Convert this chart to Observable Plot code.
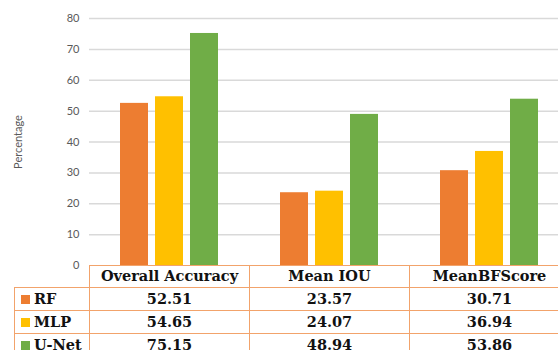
<!DOCTYPE html>
<html><head><meta charset="utf-8">
<script src="https://cdn.jsdelivr.net/npm/d3@7"></script>
<script src="https://cdn.jsdelivr.net/npm/@observablehq/plot@0.6"></script>
<style>
body{margin:0;background:#fff;}
#wrap{position:relative;width:558px;height:350px;overflow:hidden;background:#fff;}
#tbl{position:absolute;border-collapse:collapse;table-layout:fixed;font-family:'DejaVu Serif';}
#tbl td{border:1px solid #F2A36B;padding:0;text-align:center;white-space:nowrap;overflow:visible;line-height:1;
  font-family:'DejaVu Serif';font-weight:bold;font-size:14.5px;color:#111;}
#tbl td.corner{border-top:none;border-left:none;}
#tbl td.leg{text-align:left;padding-left:6px;}
#tbl span.sw{display:inline-block;width:9px;height:9px;margin-right:4px;vertical-align:0px;}
</style>
</head><body>
<div id="wrap"></div>
<script>
const categories = ["Overall Accuracy", "Mean IOU", "MeanBFScore"];
const series = ["RF", "MLP", "U-Net"];
const rfValues = [52.51, 23.57, 30.71];
const mlpValues = [54.65, 24.07, 36.94];
const unetValues = [75.15, 48.94, 53.86];
const seriesColors = ["#ED7D31", "#FFC000", "#70AD47"];
const yTicks = [0, 10, 20, 30, 40, 50, 60, 70, 80];
const valueLabels = [
  ["52.51", "23.57", "30.71"],
  ["54.65", "24.07", "36.94"],
  ["75.15", "48.94", "53.86"]
];

const seriesValues = [rfValues, mlpValues, unetValues];
const rows = [];
series.forEach((s, i) => categories.forEach((c, j) => rows.push({series: s, category: c, value: seriesValues[i][j]})));

const chart = Plot.plot({
  width: 558,
  height: 267,
  marginTop: 18,
  marginBottom: 2,
  marginLeft: 89,
  marginRight: -11,
  style: {fontFamily: "Lato, 'Open Sans', sans-serif", fontSize: "11px", color: "#595959", background: "white", overflow: "visible"},
  fx: {domain: categories, padding: 0, axis: null},
  x: {domain: series, paddingInner: 0.21, paddingOuter: 0.86, axis: null},
  y: {domain: [0, 80], ticks: yTicks, tickSize: 0, tickPadding: 10, tickFormat: d => String(d),
      label: "Percentage", labelAnchor: "center", labelOffset: 75, labelArrow: "none"},
  color: {domain: series, range: seriesColors},
  marks: [
    Plot.ruleY(yTicks.filter(d => d > 0), {y: d => d, stroke: "#d9d9d9", strokeWidth: 1.5}),
    Plot.barY(rows, {fx: "category", x: "series", y: "value", fill: "series"})
  ]
});
const wrap = document.getElementById("wrap");
wrap.appendChild(chart);

// Data table below the chart, aligned with the fx (category) scale
const fx = chart.scale("fx");
const colLefts = categories.map(c => fx.apply(c));
const bw = fx.bandwidth;
const tableLeft = 14;
const legendW = colLefts[0] - tableLeft;
const tbl = document.createElement("table");
tbl.id = "tbl";
tbl.style.left = tableLeft + "px";
tbl.style.top = "265px";
tbl.style.width = (legendW + bw * categories.length) + "px";
const cg = document.createElement("colgroup");
[legendW, ...categories.map(() => bw)].forEach(w => { const col = document.createElement("col"); col.style.width = w + "px"; cg.appendChild(col); });
tbl.appendChild(cg);
const hr = document.createElement("tr");
hr.style.height = "22px";
const corner = document.createElement("td"); corner.className = "corner"; hr.appendChild(corner);
categories.forEach(c => { const td = document.createElement("td"); td.textContent = c; hr.appendChild(td); });
tbl.appendChild(hr);
series.forEach((s, i) => {
  const tr = document.createElement("tr");
  tr.style.height = "23px";
  const lg = document.createElement("td"); lg.className = "leg";
  lg.innerHTML = `<span class="sw" style="background:${seriesColors[i]}"></span>${s}`;
  tr.appendChild(lg);
  valueLabels[i].forEach(v => { const td = document.createElement("td"); td.textContent = v; tr.appendChild(td); });
  tbl.appendChild(tr);
});
wrap.appendChild(tbl);
</script>
</body></html>
